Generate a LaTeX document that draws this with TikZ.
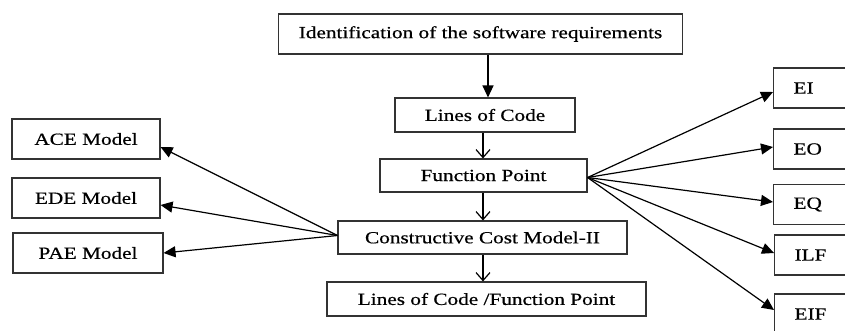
\documentclass[tikz,border=0pt]{standalone}
\usepackage{fontspec}
\setmainfont{Liberation Serif}[FakeStretch=1.25,FakeBold=0.6]
\usetikzlibrary{arrows.meta}
\begin{document}
\begin{tikzpicture}[x=1pt,y=-1pt,
  box/.style={draw=black!80,line width=1.1pt,rectangle,inner sep=0pt,
    font=\fontsize{17}{20}\selectfont,text=black},
  sidebox/.style={box,minimum height=40pt,anchor=west,text width=60pt,
    align=left,inner xsep=20pt},
  bigtip/.style={line width=1.2pt,-{Triangle[length=12pt,width=11pt]}},
  barb/.style={line width=1.2pt,-{Straight Barb[length=8pt,width=14pt]}}]
\useasboundingbox (0,0) rectangle (845,331);
\clip (0,0) rectangle (845,331);

% central column
\node[box,minimum width=404pt,minimum height=40pt] (req) at (480.5,34)
  {Identification of the software requirements};
\node[box,minimum width=180pt,minimum height=34pt] (loc) at (485,115)
  {Lines of Code};
\node[box,minimum width=207pt,minimum height=33pt] (fp) at (483.5,175.5)
  {Function Point};
\node[box,minimum width=289pt,minimum height=33pt] (ccm) at (482.5,237.5)
  {Constructive Cost Model-II};
\node[box,minimum width=319pt,minimum height=34pt] (lfp) at (486.5,299)
  {Lines of Code /Function Point};

% effort models on the left
\node[box,minimum width=148pt,minimum height=40pt] (ace) at (86,139) {ACE Model};
\node[box,minimum width=148pt,minimum height=40pt] (ede) at (86,198) {EDE Model};
\node[box,minimum width=150pt,minimum height=40pt] (pae) at (88,253) {PAE Model};

% function point components on the right
\node[sidebox] (ei)  at (773,88)    {EI};
\node[sidebox] (eo)  at (773,149)   {EO};
\node[sidebox] (eq)  at (773,204.5) {EQ};
\node[sidebox] (ilf) at (774,255)   {ILF};
\node[sidebox] (eif) at (774,314)   {EIF};

% vertical flow, each arrow kept upright
\coordinate (topx) at (488,0);
\coordinate (midx) at (483,0);
\draw[bigtip] (req.south -| topx) -- (loc.north -| topx);
\draw[barb] (loc.south -| midx) -- (fp.north -| midx);
\draw[barb] (fp.south -| midx) -- (ccm.north -| midx);
\draw[barb] (ccm.south -| midx) -- (lfp.north -| midx);

% fan to the models
\coordinate (cw) at ([yshift=2pt]ccm.west);
\draw[bigtip] (cw) -- ([yshift=-8pt]ace.east);
\draw[bigtip] (cw) -- ([yshift=-7pt]ede.east);
\draw[bigtip] (cw) -- (pae.east);

% fan to the components
\coordinate (fe) at ([yshift=-2pt]fp.east);
\draw[bigtip] (fe) -- ([yshift=-4pt]ei.west);
\draw[bigtip] (fe) -- ([yshift=2pt]eo.west);
\draw[bigtip] (fe) -- ([yshift=2.5pt]eq.west);
\draw[bigtip] (fe) -- ([yshift=2pt]ilf.west);
\draw[bigtip] (fe) -- ([yshift=4pt]eif.west);
\end{tikzpicture}
\end{document}
